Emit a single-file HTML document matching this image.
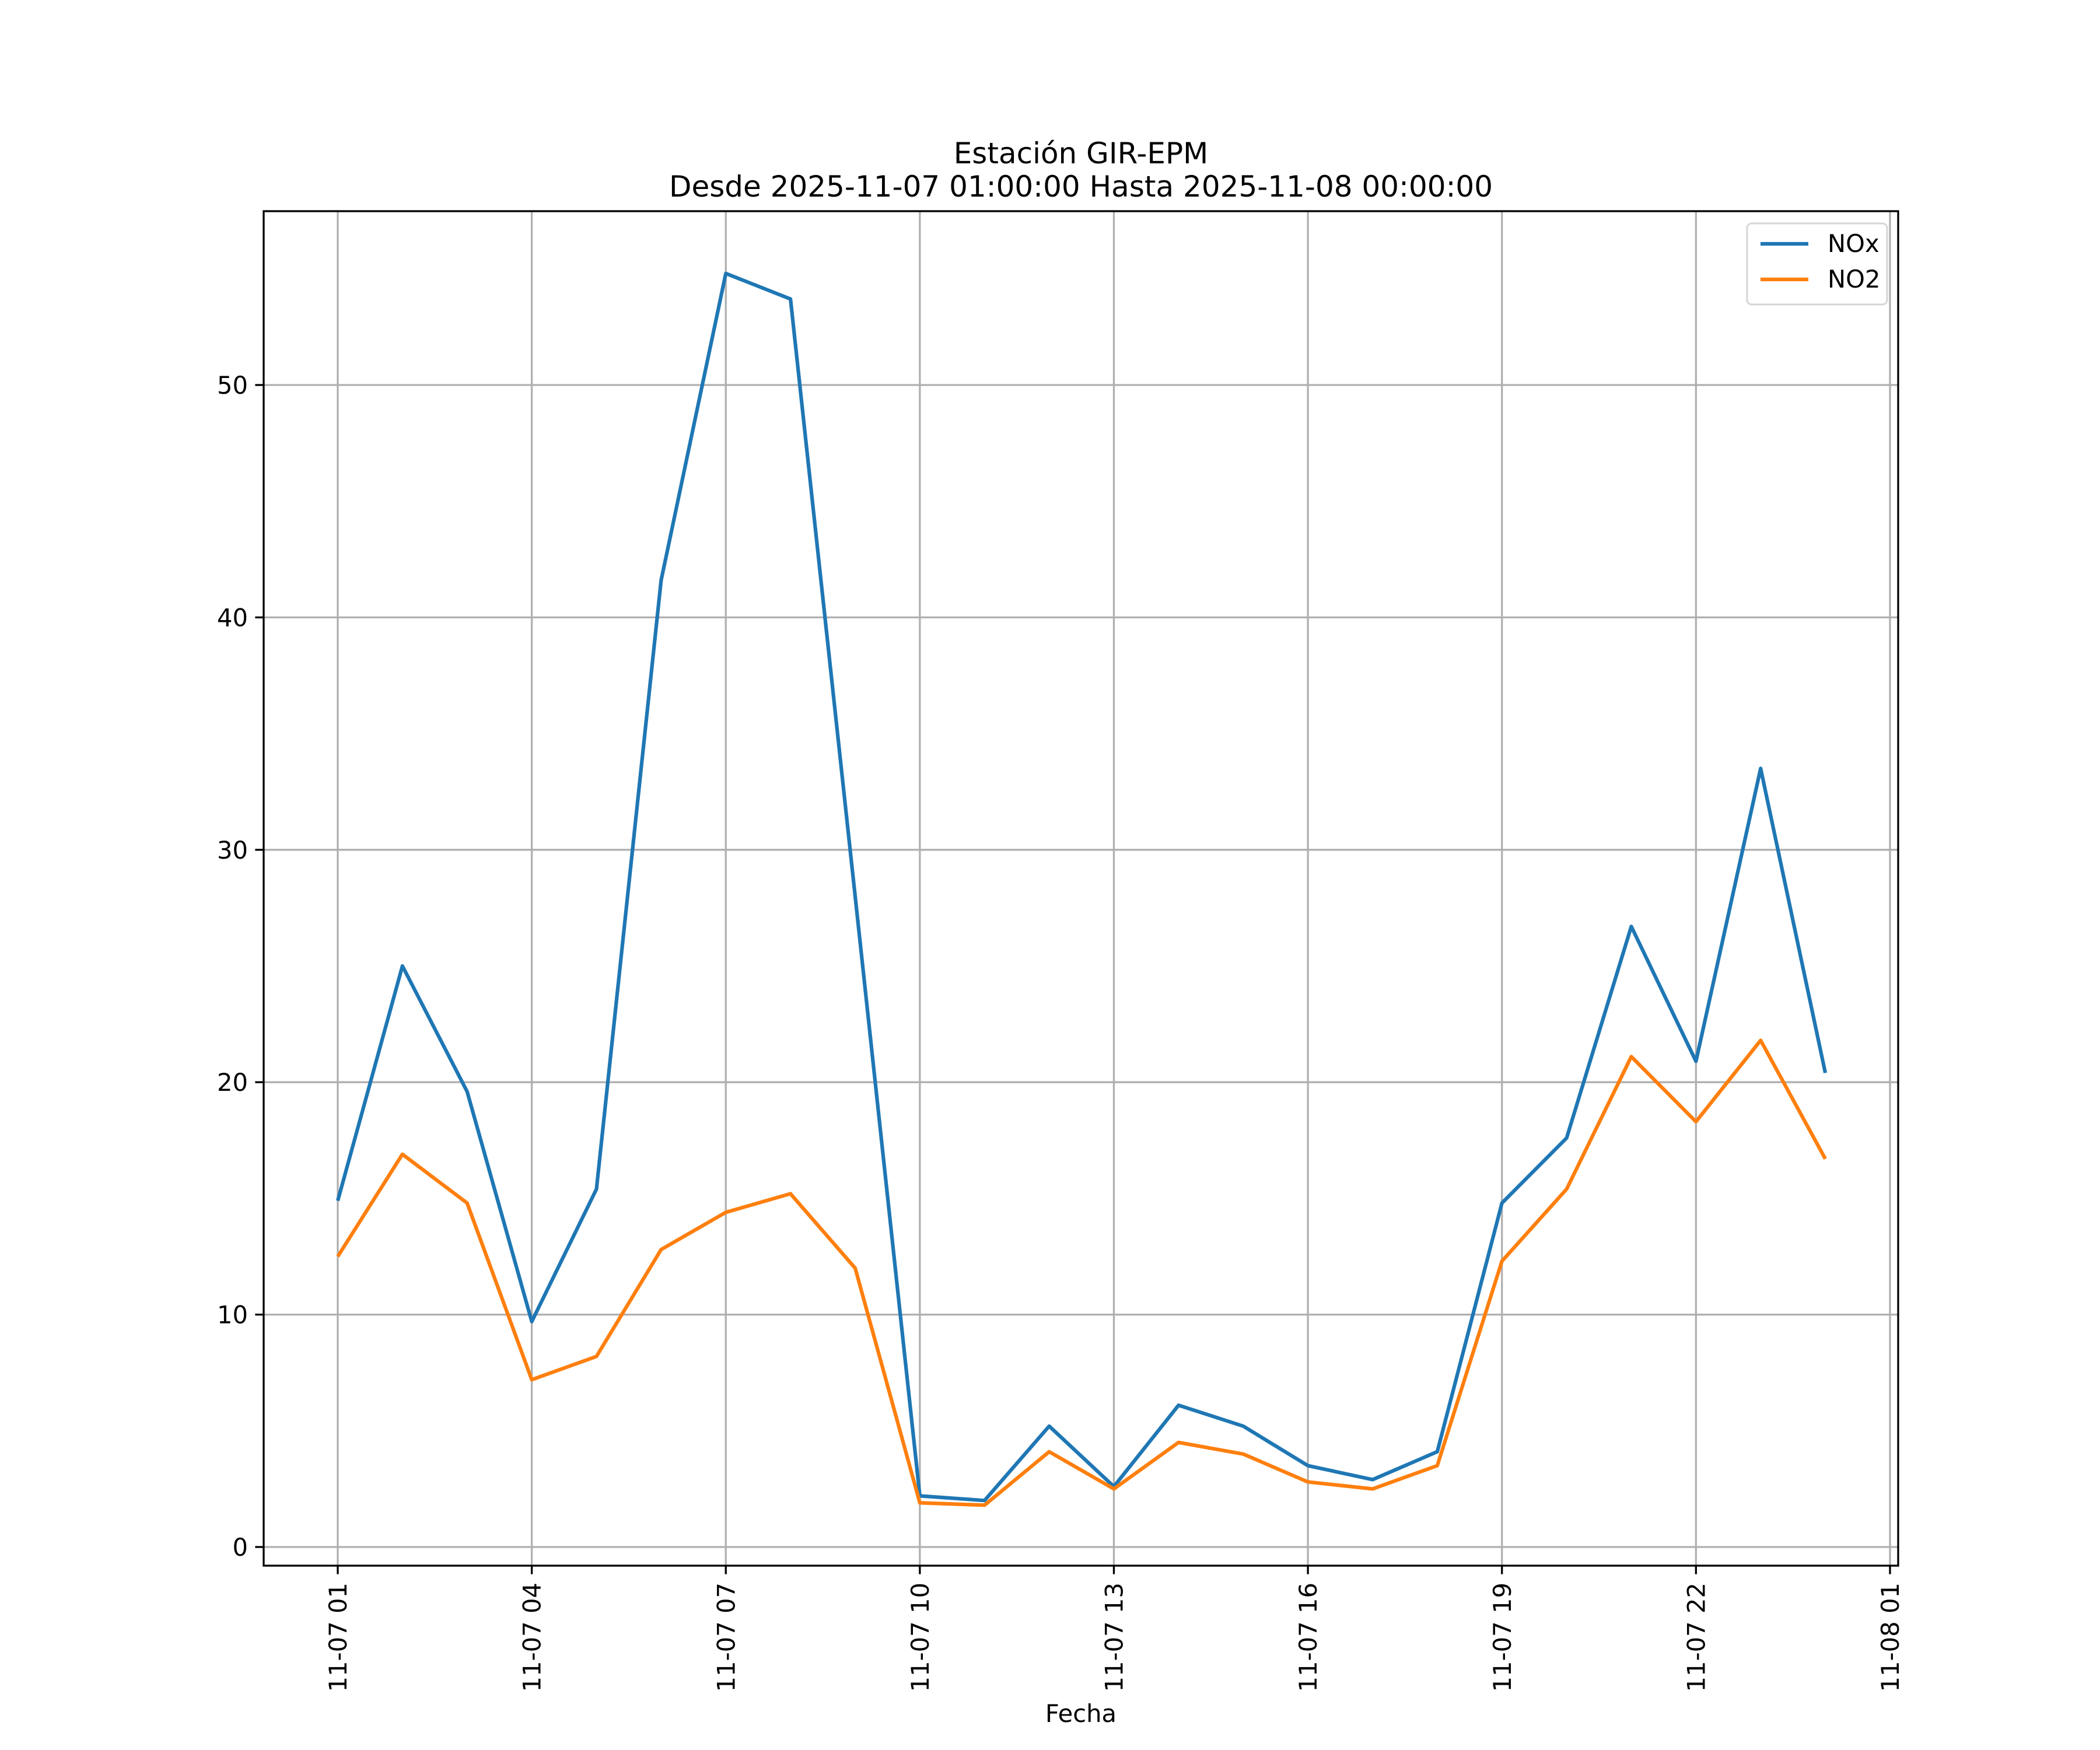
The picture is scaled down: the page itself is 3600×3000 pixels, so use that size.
<!DOCTYPE html>
<html><head><meta charset="utf-8"><style>body{margin:0;background:#fff}svg{display:block}text{font-family:"DejaVu Sans","Liberation Sans",sans-serif}</style></head>
<body>
<svg id="chart" width="3600" height="3000" viewBox="0 0 3600 3000" xmlns="http://www.w3.org/2000/svg">
<rect width="3600" height="3000" fill="#fff"/>
<text x="1853" y="280" font-size="50" text-anchor="middle">Estación GIR-EPM</text>
<text x="1853" y="337" font-size="50" text-anchor="middle">Desde 2025-11-07 01:00:00 Hasta 2025-11-08 00:00:00</text>
<g id="grid"></g><g id="series"></g><g id="ticks"></g>
<rect x="452" y="362" width="2802" height="2322" fill="none" stroke="#000" stroke-width="3.3"/>
<text x="1853" y="2952" font-size="41.7" text-anchor="middle">Fecha</text>
<g>
<rect x="2995" y="383" width="240" height="139" rx="8" fill="#fff" stroke="#ccc" stroke-width="3" opacity="0.8"/>
<line x1="3018" y1="418" x2="3100" y2="418" stroke="#1f77b4" stroke-width="6.25"/>
<text x="3133" y="432" font-size="41.7">NOx</text>
<line x1="3018" y1="479" x2="3100" y2="479" stroke="#ff7f0e" stroke-width="6.25"/>
<text x="3133" y="493" font-size="41.7">NO2</text>
</g>
</svg>
<script>
const hours = [1,2,3,4,5,6,7,8,9,10,11,12,13,14,15,16,17,18,19,20,21,22,23,24];
const noxValues = [14.9,25.0,19.6,9.7,15.4,41.6,54.8,53.7,28.0,2.2,2.0,5.2,2.6,6.1,5.2,3.5,2.9,4.1,14.8,17.6,26.7,20.9,33.5,20.4];
const no2Values = [12.5,16.9,14.8,7.2,8.2,12.8,14.4,15.2,12.0,1.9,1.8,4.1,2.5,4.5,4.0,2.8,2.5,3.5,12.3,15.4,21.1,18.3,21.8,16.7];
const yTicks = [0,10,20,30,40,50];
const xTickHours = [1,4,7,10,13,16,19,22,25];
const xTickLabels = ["11-07 01","11-07 04","11-07 07","11-07 10","11-07 13","11-07 16","11-07 19","11-07 22","11-08 01"];
const NS="http://www.w3.org/2000/svg";
const L=452,R=3254,T=362,B=2684;
const x=h=>579+(h-1)*(3240-579)/24;
const y=v=>2652-v*(2652-660)/50;
function mk(tag,attrs,parent){const e=document.createElementNS(NS,tag);for(const k in attrs)e.setAttribute(k,attrs[k]);parent.appendChild(e);return e;}
const grid=document.getElementById('grid'),ticks=document.getElementById('ticks'),series=document.getElementById('series');
yTicks.forEach(v=>{
  const g=mk('line',{x1:L,x2:R,y1:y(v),y2:y(v),stroke:'#b0b0b0','stroke-width':3.3},grid);
  
  
  mk('line',{x1:L-14.6,x2:L,y1:y(v),y2:y(v),stroke:'#000','stroke-width':3.3},ticks);
  const t=mk('text',{x:L-27,y:y(v)+15,'font-size':41.7,'text-anchor':'end'},ticks);
  t.textContent=v;
  
  
});
xTickHours.forEach((h,i)=>{
  const g=mk('line',{x1:x(h),x2:x(h),y1:T,y2:B,stroke:'#b0b0b0','stroke-width':3.3},grid);
  
  
  mk('line',{x1:x(h),x2:x(h),y1:B,y2:B+14.6,stroke:'#000','stroke-width':3.3},ticks);
  const t=mk('text',{x:0,y:0,'font-size':41.7,'text-anchor':'end',transform:`translate(${x(h)+15},${B+29}) rotate(-90)`},ticks);
  t.textContent=xTickLabels[i];
  
  
});
function line(vals,color,name){
  const p=mk('polyline',{points:vals.map((v,i)=>x(hours[i])+','+y(v)).join(' '),fill:'none',stroke:color,'stroke-width':6.25,'stroke-linejoin':'round'},series);
  
  
}
line(noxValues,'#1f77b4','nox-line');
line(no2Values,'#ff7f0e','no2-line');
</script>
</body></html>
